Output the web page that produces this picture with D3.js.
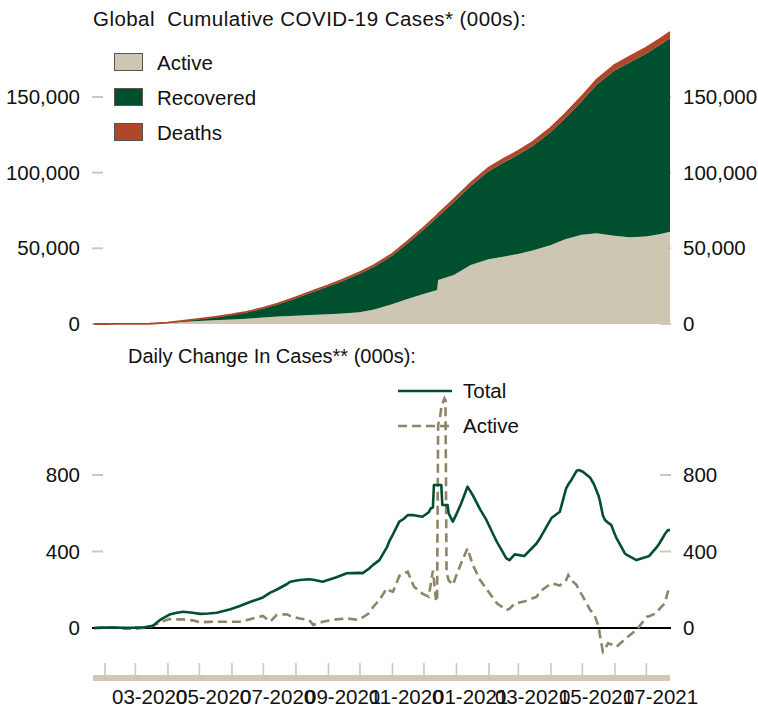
<!DOCTYPE html>
<html>
<head>
<meta charset="utf-8">
<script src="https://d3js.org/d3.v7.min.js"></script>
<style>
  body { margin: 0; background: #fff; }
  svg { display: block; }
  text { font-family: "Liberation Sans", Arial, sans-serif; fill: #111; }
</style>
</head>
<body>
<div id="chart"></div>
<script>
// cumulative cases, 000s
var cumDates = ["2020-01-22","2020-02-01","2020-02-15","2020-03-01","2020-03-15","2020-04-01","2020-04-15",
  "2020-05-01","2020-05-15","2020-06-01","2020-06-15","2020-07-01","2020-07-15","2020-08-01","2020-08-15",
  "2020-09-01","2020-09-15","2020-10-01","2020-10-15","2020-11-01","2020-11-15","2020-12-01","2020-12-14",
  "2020-12-15","2020-12-30","2021-01-15","2021-02-01","2021-02-15","2021-03-01","2021-03-15","2021-04-01",
  "2021-04-15","2021-05-01","2021-05-15","2021-06-01","2021-06-15","2021-07-01","2021-07-15","2021-07-24"];
var cumTotal = [0.6, 12, 69, 88, 167, 932, 2050, 3350, 4560, 6270, 8000, 10600, 13500, 17600, 21300,
  25600, 29400, 34200, 38900, 46300, 54200, 63700, 72000, 72700, 82500, 93200, 103200, 109000, 114300,
  120300, 129600, 138900, 150500, 161500, 171200, 176500, 182600, 188700, 193000];
var cumActive = [0.5, 11, 57, 43, 80, 690, 1400, 2000, 2550, 3000, 3400, 4300, 4900, 5400, 6000,
  6500, 7000, 7700, 9500, 13000, 16300, 19800, 22500, 29000, 32400, 39000, 42800, 44500, 46200,
  48500, 52000, 56000, 59000, 59900, 58300, 57400, 57800, 59500, 61000];
var cumDeaths = [0.02, 0.26, 1.7, 3, 6.5, 47, 134, 239, 305, 376, 435, 515, 580, 686, 764,
  853, 932, 1010, 1090, 1190, 1310, 1470, 1610, 1620, 1810, 2000, 2230, 2420, 2540,
  2660, 2830, 2980, 3200, 3370, 3690, 3830, 3950, 4060, 4140];

// daily change, 000s
var dailyDates = ["2020-01-22","2020-02-01","2020-02-10","2020-02-20","2020-03-01","2020-03-10","2020-03-18",
  "2020-03-25","2020-04-03","2020-04-10","2020-04-16","2020-04-25","2020-05-02","2020-05-10","2020-05-18",
  "2020-05-31","2020-06-09","2020-06-18","2020-07-01","2020-07-08","2020-07-14","2020-07-24","2020-07-27",
  "2020-08-05","2020-08-14","2020-08-18","2020-08-27","2020-09-09","2020-09-19","2020-09-30","2020-10-04",
  "2020-10-10","2020-10-14","2020-10-20","2020-10-27","2020-10-30","2020-11-02","2020-11-08","2020-11-12",
  "2020-11-16","2020-11-22","2020-11-30","2020-12-06","2020-12-08","2020-12-10","2020-12-11","2020-12-13",
  "2020-12-14","2020-12-15","2020-12-17","2020-12-18","2020-12-19","2020-12-21","2020-12-22","2020-12-23",
  "2020-12-24","2020-12-25","2020-12-29","2021-01-01","2021-01-06","2021-01-12","2021-01-17","2021-01-24",
  "2021-01-30","2021-02-09","2021-02-18","2021-02-21","2021-02-26","2021-03-07","2021-03-19","2021-03-22",
  "2021-04-02","2021-04-10","2021-04-16","2021-04-18","2021-04-21","2021-04-26","2021-04-28","2021-05-02",
  "2021-05-09","2021-05-12","2021-05-13","2021-05-17","2021-05-18","2021-05-21","2021-05-23","2021-05-26",
  "2021-05-29","2021-06-01","2021-06-03","2021-06-11","2021-06-12","2021-06-22","2021-07-02","2021-07-04",
  "2021-07-11","2021-07-14","2021-07-19","2021-07-22","2021-07-24"];
var dailyTotal = [0, 2, 3, 1, 2, 4, 12,
  42, 70, 80, 85, 80, 74, 76, 80,
  98, 115, 135, 160, 185, 200, 230, 242,
  251, 255, 252, 242, 265, 286, 288, 287,
  310, 330, 355, 420, 460, 490, 556, 570,
  590, 590, 582, 605, 626, 630, 748, 748,
  748, 748, 748, 748, 643, 643, 643, 643,
  643, 600, 556, 590, 652, 739, 695, 620,
  565, 450, 364, 355, 385, 376, 443, 469,
  575, 608, 730, 750, 774, 822, 826, 817,
  785, 757, 745, 690, 669, 590, 565, 550,
  539, 495, 470, 390, 385, 355, 372, 376,
  420, 443, 490, 512, 512];
var dailyActive = [0, 2, 2, -4, -4, 1, 10,
  30, 47, 45, 45, 40, 30, 32, 33,
  33, 33, 45, 63, 33, 68, 72, 62,
  50, 42, 16, 33, 45, 50, 42, 55,
  77, 110, 146, 207, 195, 190, 272, 285,
  294, 216, 180, 164, 230, 300, 250, 140,
  138, 1060, 1110, 1150, 1170, 1200, 1190, 300,
  270, 250, 225, 270, 340, 417, 330, 251,
  205, 129, 94, 100, 129, 138, 164, 190,
  234, 222, 250, 277, 250, 225, 200, 164,
  94, 75, 68, 7, -30, -124, -110, -80,
  -85, -92, -98, -60, -54, -10, 59, 62,
  77, 100, 129, 190, 216];

var topTicks = [0, 50000, 100000, 150000];
var bottomTicks = [0, 400, 800];

var colors = { active: "#cdc6b3", recovered: "#005030", deaths: "#b0472a", dash: "#8e8467", axis: "#cfc8b5" };

var W = 758, H = 715;
var svg = d3.select("#chart").append("svg").attr("width", W).attr("height", H);
var parse = d3.timeParse("%Y-%m-%d");
var fmt = d3.format(",");
var FS = "20.5px";

var x = d3.scaleTime()
  .domain([parse("2020-01-22"), parse("2021-07-24")])
  .range([94, 670]);

// ---------- top chart ----------
var yTop = d3.scaleLinear().domain([0, 150000]).range([324, 97]);

var cumRows = cumDates.map(function(d, i) {
  return {
    date: parse(d),
    active: cumActive[i],
    recovered: cumTotal[i] - cumActive[i] - cumDeaths[i],
    deaths: cumDeaths[i]
  };
});

// tick marks (drawn under areas)
topTicks.forEach(function(t) {
  svg.append("line").attr("x1", 92).attr("x2", 103).attr("y1", yTop(t)).attr("y2", yTop(t))
    .attr("stroke", colors.axis).attr("stroke-width", 2);
  svg.append("line").attr("x1", 660).attr("x2", 671).attr("y1", yTop(t)).attr("y2", yTop(t))
    .attr("stroke", colors.axis).attr("stroke-width", 2);
});

var stack = d3.stack().keys(["active", "recovered", "deaths"]);
var series = stack(cumRows);

var area = d3.area()
  .x(function(d) { return x(d.data.date); })
  .y0(function(d) { return yTop(d[0]); })
  .y1(function(d) { return yTop(d[1]); });

svg.selectAll(".layer")
  .data(series)
  .enter().append("path")
  .attr("class", "layer")
  .attr("fill", function(d) { return colors[d.key]; })
  .attr("d", area);

// thin edge on top of deaths band
svg.append("path")
  .datum(series[2])
  .attr("fill", "none")
  .attr("stroke", colors.deaths)
  .attr("stroke-width", 1.8)
  .attr("d", d3.line().x(function(d) { return x(d.data.date); }).y(function(d) { return yTop(d[1]); }));

var leftTop = svg.append("g").attr("transform", "translate(92,0)")
  .call(d3.axisLeft(yTop).tickValues(topTicks).tickSize(0).tickPadding(12).tickFormat(fmt));
var rightTop = svg.append("g").attr("transform", "translate(671,0)")
  .call(d3.axisRight(yTop).tickValues(topTicks).tickSize(0).tickPadding(12).tickFormat(fmt));
[leftTop, rightTop].forEach(function(g) {
  g.select(".domain").remove();
  g.selectAll("text").style("font-size", FS).style("font-family", "Liberation Sans, Arial, sans-serif").attr("fill", "#111");
});

svg.append("text").attr("x", 93).attr("y", 26).style("font-size", FS)
  .style("white-space", "pre")
  .attr("textLength", 433).attr("lengthAdjust", "spacing")
  .text("Global  Cumulative COVID-19 Cases* (000s):");

var legendTop = [["Active", colors.active], ["Recovered", colors.recovered], ["Deaths", colors.deaths]];
legendTop.forEach(function(l, i) {
  svg.append("rect").attr("x", 114.5).attr("y", 53.5 + i * 35).attr("width", 28).attr("height", 17)
    .attr("fill", l[1]).attr("stroke", "#555").attr("stroke-width", 1);
  svg.append("text").attr("x", 157).attr("y", 69.5 + i * 35).style("font-size", FS).text(l[0]);
});

// ---------- bottom chart ----------
var yBot = d3.scaleLinear().domain([0, 800]).range([628, 475]);

bottomTicks.forEach(function(t) {
  svg.append("line").attr("x1", 92).attr("x2", 103).attr("y1", yBot(t)).attr("y2", yBot(t))
    .attr("stroke", colors.axis).attr("stroke-width", 2);
  svg.append("line").attr("x1", 660).attr("x2", 671).attr("y1", yBot(t)).attr("y2", yBot(t))
    .attr("stroke", colors.axis).attr("stroke-width", 2);
});

var dailyRows = dailyDates.map(function(d, i) {
  return { date: parse(d), total: dailyTotal[i], active: dailyActive[i] };
});

svg.append("line").attr("x1", 92).attr("x2", 671).attr("y1", yBot(0)).attr("y2", yBot(0))
  .attr("stroke", "#000").attr("stroke-width", 2);

svg.append("path").datum(dailyRows)
  .attr("fill", "none").attr("stroke", colors.dash).attr("stroke-width", 2.6)
  .attr("stroke-dasharray", "9,5")
  .attr("d", d3.line().x(function(d) { return x(d.date); }).y(function(d) { return yBot(d.active); }));

svg.append("path").datum(dailyRows)
  .attr("fill", "none").attr("stroke", colors.recovered).attr("stroke-width", 2.6)
  .attr("stroke-linejoin", "round")
  .attr("d", d3.line().x(function(d) { return x(d.date); }).y(function(d) { return yBot(d.total); }));

var leftBot = svg.append("g").attr("transform", "translate(92,0)")
  .call(d3.axisLeft(yBot).tickValues(bottomTicks).tickSize(0).tickPadding(12));
var rightBot = svg.append("g").attr("transform", "translate(671,0)")
  .call(d3.axisRight(yBot).tickValues(bottomTicks).tickSize(0).tickPadding(12));
[leftBot, rightBot].forEach(function(g) {
  g.select(".domain").remove();
  g.selectAll("text").style("font-size", FS).style("font-family", "Liberation Sans, Arial, sans-serif").attr("fill", "#111");
});

svg.append("text").attr("x", 128).attr("y", 363).style("font-size", "20px")
  .text("Daily Change In Cases** (000s):");

svg.append("line").attr("x1", 398).attr("x2", 452).attr("y1", 391).attr("y2", 391)
  .attr("stroke", colors.recovered).attr("stroke-width", 2.6);
svg.append("text").attr("x", 463).attr("y", 398).style("font-size", FS).text("Total");
svg.append("line").attr("x1", 398).attr("x2", 452).attr("y1", 426).attr("y2", 426)
  .attr("stroke", colors.dash).attr("stroke-width", 2.6).attr("stroke-dasharray", "9,5");
svg.append("text").attr("x", 463).attr("y", 433).style("font-size", FS).text("Active");

// ---------- x axis ----------
svg.append("rect").attr("x", 93).attr("y", 675).attr("width", 577).attr("height", 6).attr("fill", colors.axis);

var xAxis = svg.append("g").attr("transform", "translate(0,675)")
  .call(d3.axisTop(x).ticks(d3.timeMonth.every(1)).tickSize(12).tickFormat(""));
xAxis.select(".domain").remove();
xAxis.selectAll("line").attr("stroke", colors.axis).attr("stroke-width", 1.6);

var labelMonths = d3.timeMonth.every(2).range(parse("2020-02-01"), parse("2021-07-24"));
svg.selectAll(".xlab").data(labelMonths).enter().append("text")
  .attr("class", "xlab")
  .attr("x", function(d) { return x(d3.timeDay.offset(d, 14)); })
  .attr("y", 704)
  .attr("text-anchor", "middle")
  .style("font-size", FS)
  .text(d3.timeFormat("%m-%Y"));
</script>
</body>
</html>
